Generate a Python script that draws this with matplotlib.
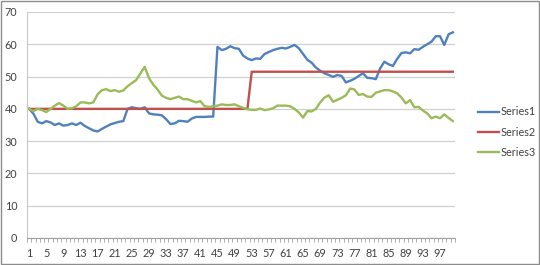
import matplotlib
matplotlib.use("Agg")
import matplotlib.pyplot as plt
from matplotlib.patches import Rectangle
from matplotlib.ticker import FixedLocator, NullFormatter

categories = list(range(1, 101))

series1 = [40, 38.5, 36, 35.5, 36.2, 35.8, 35, 35.5, 34.8, 35,
           35.5, 35, 35.7, 34.7, 34, 33.3, 33, 33.8, 34.5, 35.2,
           35.6, 36, 36.2, 40, 40.5, 40.2, 40, 40.5, 38.6, 38.3,
           38.2, 38, 36.8, 35.3, 35.5, 36.3, 36.2, 36, 37, 37.5,
           37.5, 37.5, 37.6, 37.6, 59.2, 58.2, 58.6, 59.4, 58.8, 58.6,
           56.5, 55.6, 55.1, 55.6, 55.5, 57, 57.6, 58.2, 58.6, 58.9,
           58.7, 59.2, 59.8, 58.8, 57, 55.2, 54.3, 52.8, 51.8, 51,
           50.5, 49.9, 50.5, 50.2, 48.2, 48.7, 49.3, 50.2, 51, 49.6,
           49.5, 49.2, 52.5, 54.6, 53.8, 53.3, 55.5, 57.3, 57.5, 57.2,
           58.5, 58.3, 59.2, 60, 60.8, 62.5, 62.5, 59.8, 63.1, 63.7]

series2 = [40] * 52 + [51.5] * 48

series3 = [40, 39.3, 40, 39.6, 39, 40, 41, 41.8, 41, 40,
           40.2, 40.8, 42, 42, 41.7, 42, 44.5, 45.8, 46.1, 45.5,
           45.8, 45.3, 45.7, 47, 48, 48.9, 51, 53, 49.5, 47.5,
           46, 44.1, 43.4, 43, 43.4, 43.8, 43, 43, 42.5, 42,
           42.4, 40.8, 40.6, 40.8, 41, 41.4, 41.2, 41.2, 41.4, 40.8,
           40.3, 39.9, 39.7, 39.7, 40.1, 39.6, 39.8, 40.2, 41, 41,
           41, 40.8, 40, 38.9, 37.3, 39.3, 39.2, 40, 42, 43.5,
           44.2, 42.2, 42.8, 43.4, 44.2, 46.3, 46, 44.3, 44.6, 43.8,
           43.7, 45, 45.4, 45.8, 45.8, 45.4, 44.8, 43.5, 41.7, 42.7,
           40.5, 40.6, 39.5, 38.6, 37.1, 37.6, 37.1, 38.3, 37.2, 36.2]

series_names = ["Series1", "Series2", "Series3"]
y_ticks = [0, 10, 20, 30, 40, 50, 60, 70]
x_labels = list(range(1, 101, 4))

colors = ["#4F81BD", "#C0504D", "#9BBB59"]
font = ["Lato", "DejaVu Sans"]
fs = 7.8

fig = plt.figure(figsize=(5.4, 2.65), dpi=100)
ax = fig.add_axes([27 / 540, 1 - 238 / 265, (455 - 27) / 540, (238 - 12) / 265])

for vals, name, c in zip([series1, series2, series3], series_names, colors):
    ax.plot(categories, vals, color=c, lw=1.7, label=name, solid_joinstyle="round")

ax.set_xlim(0.5, 100.5)
ax.set_ylim(0, 70)
ax.set_yticks(y_ticks)
ax.set_yticklabels([str(v) for v in y_ticks], fontfamily=font, fontsize=fs, color="#404040")
ax.yaxis.grid(True, color="#D0D0D0", lw=0.9)
ax.set_axisbelow(True)
ax.tick_params(axis="y", length=0, pad=7)

ax.set_xticks(x_labels)
ax.set_xticklabels([str(v) for v in x_labels], fontfamily=font, fontsize=fs, color="#404040")
ax.tick_params(axis="x", which="major", length=0, pad=7)
ax.xaxis.set_minor_locator(FixedLocator([i + 0.5 for i in range(0, 101)]))
ax.xaxis.set_minor_formatter(NullFormatter())
ax.tick_params(axis="x", which="minor", length=3, width=0.6, color="#A0A0A0")

for s in ["top", "right"]:
    ax.spines[s].set_visible(False)
ax.spines["left"].set_color("#C8C8C8")
ax.spines["bottom"].set_color("#A0A0A0")

leg = fig.legend(loc="center left", bbox_to_anchor=(468 / 540, 1 - 132 / 265),
                 frameon=False, handlelength=2.0, handletextpad=0.15,
                 labelspacing=0.85, prop={"family": font, "size": fs})
for t in leg.get_texts():
    t.set_color("#404040")

fig.patches.append(Rectangle((0.001, 0.002), 0.997, 0.995, transform=fig.transFigure,
                             fill=False, edgecolor="#8C8C8C", lw=1.0))

fig.savefig("out.png", dpi=100)
